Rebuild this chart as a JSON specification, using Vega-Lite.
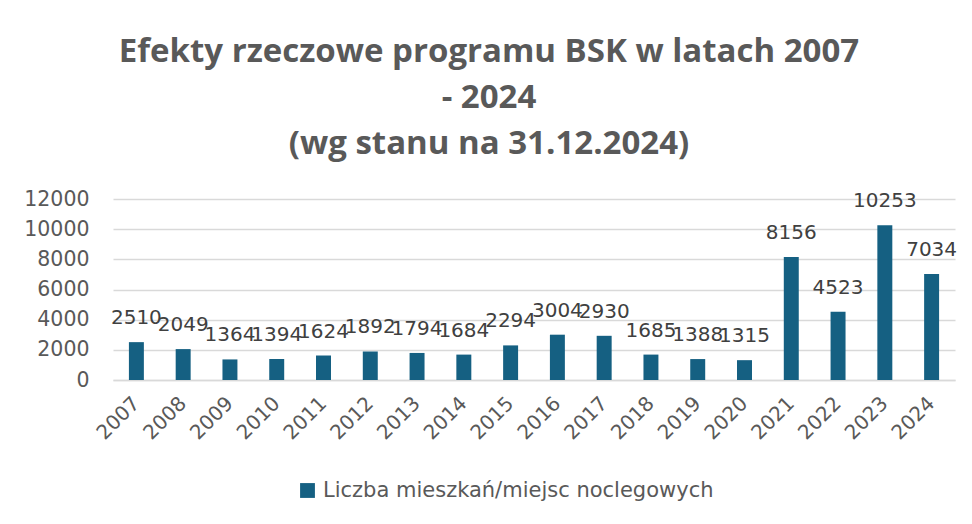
{
  "$schema": "https://vega.github.io/schema/vega-lite/v6.json",
  "width": 842,
  "height": 181,
  "autosize": {"type": "none"},
  "padding": {"left": 113, "top": 199, "right": 17, "bottom": 144},
  "background": "white",
  "config": {
    "font": "DejaVu Sans",
    "view": {"stroke": null}
  },
  "title": {
    "text": ["Efekty rzeczowe programu BSK w latach 2007", "- 2024", "(wg stanu na 31.12.2024)"],
    "font": "Open Sans",
    "fontSize": 33,
    "fontWeight": "bold",
    "color": "#595959",
    "lineHeight": 46,
    "anchor": "middle",
    "frame": "group",
    "dx": -45,
    "offset": 28
  },
  "data": {
    "values": [
      {"rok": "2007", "wartosc": 2510},
      {"rok": "2008", "wartosc": 2049},
      {"rok": "2009", "wartosc": 1364},
      {"rok": "2010", "wartosc": 1394},
      {"rok": "2011", "wartosc": 1624},
      {"rok": "2012", "wartosc": 1892},
      {"rok": "2013", "wartosc": 1794},
      {"rok": "2014", "wartosc": 1684},
      {"rok": "2015", "wartosc": 2294},
      {"rok": "2016", "wartosc": 3004},
      {"rok": "2017", "wartosc": 2930},
      {"rok": "2018", "wartosc": 1685},
      {"rok": "2019", "wartosc": 1388},
      {"rok": "2020", "wartosc": 1315},
      {"rok": "2021", "wartosc": 8156},
      {"rok": "2022", "wartosc": 4523},
      {"rok": "2023", "wartosc": 10253},
      {"rok": "2024", "wartosc": 7034}
    ]
  },
  "encoding": {
    "x": {
      "field": "rok",
      "type": "ordinal",
      "scale": {"paddingInner": 0.68, "paddingOuter": 0.34},
      "axis": {
        "title": null,
        "labelAngle": -45,
        "labelAlign": "right",
        "labelBaseline": "middle",
        "labelFontSize": 20,
        "labelColor": "#595959",
        "labelPadding": 20,
        "ticks": false,
        "domain": true,
        "domainColor": "#d9d9d9",
        "domainWidth": 1.5
      }
    },
    "y": {
      "field": "wartosc",
      "type": "quantitative",
      "scale": {"domain": [0, 12000]},
      "axis": {
        "title": null,
        "values": [0, 2000, 4000, 6000, 8000, 10000, 12000],
        "format": "d",
        "labelFontSize": 20.5,
        "labelColor": "#595959",
        "labelPadding": 24,
        "ticks": false,
        "domain": false,
        "grid": true,
        "gridColor": "#d9d9d9",
        "gridWidth": 1.5
      }
    }
  },
  "layer": [
    {
      "mark": {"type": "bar"},
      "encoding": {
        "color": {
          "datum": "Liczba mieszkań/miejsc noclegowych",
          "type": "nominal",
          "scale": {"range": ["#156082"]},
          "legend": {
            "title": null,
            "orient": "none",
            "legendX": 184,
            "legendY": 281,
            "symbolType": "square",
            "symbolSize": 220,
            "symbolStrokeWidth": 0,
            "labelFontSize": 21,
            "labelColor": "#595959",
            "labelOffset": 5,
            "labelLimit": 0
          }
        }
      }
    },
    {
      "mark": {"type": "text", "dy": -18, "baseline": "alphabetic", "fontSize": 20, "color": "#404040"},
      "encoding": {
        "text": {"field": "wartosc", "type": "quantitative", "format": "d"}
      }
    }
  ]
}
